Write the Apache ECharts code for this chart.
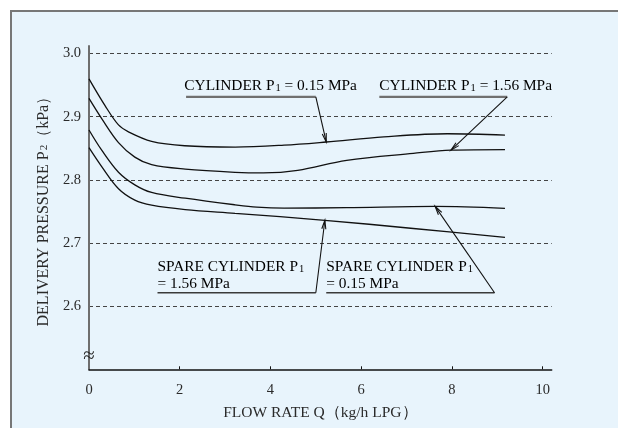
<!DOCTYPE html>
<html>
<head>
<meta charset="utf-8">
<script src="https://cdn.jsdelivr.net/npm/echarts@6/dist/echarts.min.js"></script>
<style>
  html { overflow: hidden; background: #e8f4fc; }
  body { margin: 0; padding: 0; background: #e8f4fc; }
  #chart { position: fixed; left: 0; top: 0; width: 100vw; height: 100vh; }
</style>
</head>
<body>
<div id="chart"></div>
<script>
// ---- data ----
const flowCyl015  = [0, 0.35, 0.65, 0.87, 1.38, 2.11, 3.22, 4.3, 5.23, 6.5, 7.9, 9.17];
const pressCyl015 = [2.960, 2.918, 2.887, 2.876, 2.861, 2.854, 2.852, 2.855, 2.860, 2.868, 2.873, 2.871];

const flowCyl156  = [0, 0.28, 0.65, 1.01, 1.38, 2.12, 3.22, 3.84, 4.6, 5.68, 7.15, 7.98, 9.17];
const pressCyl156 = [2.929, 2.897, 2.859, 2.836, 2.824, 2.817, 2.812, 2.811, 2.815, 2.831, 2.842, 2.847, 2.848];

const flowSpare015  = [0, 0.28, 0.65, 1.01, 1.38, 2.12, 3.22, 3.7, 4.3, 5.68, 7.63, 9.17];
const pressSpare015 = [2.879, 2.847, 2.812, 2.792, 2.780, 2.771, 2.7605, 2.7568, 2.7552, 2.756, 2.758, 2.755];

const flowSpare156  = [0, 0.28, 0.65, 1.01, 1.38, 2.12, 3.22, 5.2, 7.15, 9.17];
const pressSpare156 = [2.851, 2.821, 2.786, 2.768, 2.760, 2.753, 2.747, 2.736, 2.723, 2.709];

const xTickLabels = [0, 2, 4, 6, 8, 10];
const yTickLabels = [2.6, 2.7, 2.8, 2.9, 3.0];

// annotation texts (rich-text markup for the subscript)
const annTexts = [
  '{n|CYLINDER P}{s|1}{n| = 0.15 MPa}',
  '{n|CYLINDER P}{s|1}{n| = 1.56 MPa}',
  '{n|SPARE CYLINDER P}{s|1}\n{n|= 1.56 MPa}',
  '{n|SPARE CYLINDER P}{s|1}\n{n|= 0.15 MPa}'
];
// annotation anchors in data units: text left/bottom, underline x0..x1 at yLine, arrow tip
const annTextX  = [2.10, 6.40, 1.51, 5.23];
const annTextY  = [2.9345, 2.9345, 2.6215, 2.6215];
const annLineX0 = [2.14, 6.40, 1.51, 5.23];
const annLineX1 = [5.00, 9.22, 5.00, 8.94];
const annLineY  = [2.9313, 2.9313, 2.6212, 2.6212];
const annTipX   = [5.23, 7.98, 5.20, 7.63];
const annTipY   = [2.860, 2.847, 2.736, 2.758];

const FONT = '"Liberation Serif", "DejaVu Serif", serif';
const TXT = '#2a2a2a';

function zip(a, b) { return a.map((v, i) => [v, b[i]]); }

const lineStyle = { color: '#111', width: 1.3 };
function curve(name, xs, ys) {
  return { name, type: 'line', data: zip(xs, ys), smooth: 0.35, showSymbol: false,
           lineStyle, z: 5, silent: true };
}

const rich = {
  n: { fontFamily: FONT, fontSize: 15.4, color: TXT, lineHeight: 17 },
  s: { fontFamily: FONT, fontSize: 10.5, color: TXT, lineHeight: 17, padding: [4, 0, 0, 1] }
};

function renderAnn(params, api) {
  const i = params.dataIndex;
  const p0 = api.coord([annLineX0[i], annLineY[i]]);
  const p1 = api.coord([annLineX1[i], annLineY[i]]);
  const tip = api.coord([annTipX[i], annTipY[i]]);
  const t = api.coord([annTextX[i], annTextY[i]]);
  const dx = tip[0] - p1[0], dy = tip[1] - p1[1];
  const L = Math.hypot(dx, dy), ux = dx / L, uy = dy / L;
  const hl = 9, ang = 13 * Math.PI / 180;
  function rot(a) {
    const c = Math.cos(a), s = Math.sin(a);
    return [tip[0] - hl * (ux * c - uy * s), tip[1] - hl * (ux * s + uy * c)];
  }
  const top = i < 2;
  return {
    type: 'group',
    children: [
      { type: 'line', shape: { x1: p0[0], y1: p0[1], x2: p1[0], y2: p1[1] },
        style: { stroke: top ? '#707070' : '#3a3a3a', lineWidth: top ? 2.2 : 1.5 } },
      { type: 'line', shape: { x1: p1[0], y1: p1[1], x2: tip[0], y2: tip[1] },
        style: { stroke: '#111', lineWidth: 1.1 } },
      { type: 'polyline', shape: { points: [rot(ang), tip, rot(-ang)] },
        style: { stroke: '#111', lineWidth: 1.1, fill: null } },
      { type: 'text', x: t[0], y: t[1],
        style: { text: annTexts[i], rich, align: 'left', verticalAlign: 'bottom' } }
    ]
  };
}

function renderBreak(params, api) {
  const p = api.coord([0, 2.52]);
  return { type: 'text', x: p[0], y: p[1],
    style: { text: '≈', font: '21px ' + FONT, fill: '#222', align: 'center', verticalAlign: 'middle' } };
}

const chart = echarts.init(document.getElementById('chart'), null, { renderer: 'canvas' });
chart.setOption({
  backgroundColor: '#ffffff',
  animation: false,
  graphic: [
    { type: 'rect', z: -100, silent: true, shape: { x: 10, y: 10, width: 700, height: 500 },
      style: { fill: '#e8f4fc' } },
    { type: 'line', z: -99, silent: true, shape: { x1: 10, y1: 11, x2: 700, y2: 11 },
      style: { stroke: '#777', lineWidth: 2 } },
    { type: 'line', z: -99, silent: true, shape: { x1: 11, y1: 10, x2: 11, y2: 500 },
      style: { stroke: '#777', lineWidth: 2 } }
  ],
  grid: { left: 89, right: 66.3, top: 46, bottom: 58.7, containLabel: false },
  xAxis: {
    type: 'value', min: 0, max: 10.2, interval: 2,
    name: 'FLOW RATE Q（kg/h LPG）', nameLocation: 'middle', nameGap: 36,
    nameTextStyle: { fontFamily: FONT, fontSize: 15.5, color: TXT },
    axisLine: { show: true, lineStyle: { color: '#111', width: 1.5 } },
    axisTick: { show: true, inside: true, length: 3, lineStyle: { color: '#111', width: 1 },
                customValues: [2, 4, 6, 8, 10] },
    axisLabel: { customValues: xTickLabels, fontFamily: FONT, fontSize: 14.5, color: TXT, margin: 13 },
    splitLine: { show: false }
  },
  yAxis: {
    type: 'value', min: 2.5, max: 3.012, interval: 0.1,
    name: '{n|DELIVERY PRESSURE P}{s|2}{n|（kPa）}', nameLocation: 'middle', nameGap: 34.5,
    nameTextStyle: { rich: {
      n: { fontFamily: FONT, fontSize: 16, color: TXT },
      s: { fontFamily: FONT, fontSize: 11, color: TXT, padding: [0, 0, 0, 1] } } },
    axisLine: { show: true, lineStyle: { color: '#6e6e6e', width: 2 } },
    axisTick: { show: false },
    axisLabel: { customValues: yTickLabels, formatter: v => v.toFixed(1),
                 fontFamily: FONT, fontSize: 14.5, color: TXT, margin: 8 },
    splitLine: { show: true, showMinLine: false, showMaxLine: false,
                 lineStyle: { color: '#444', width: 1, type: [4, 3] } }
  },
  series: [
    curve('CYLINDER P1 = 0.15 MPa', flowCyl015, pressCyl015),
    curve('CYLINDER P1 = 1.56 MPa', flowCyl156, pressCyl156),
    curve('SPARE CYLINDER P1 = 0.15 MPa', flowSpare015, pressSpare015),
    curve('SPARE CYLINDER P1 = 1.56 MPa', flowSpare156, pressSpare156),
    { type: 'custom', renderItem: renderAnn, data: [0, 1, 2, 3], z: 6, silent: true, clip: false },
    { type: 'custom', renderItem: renderBreak, data: [0], z: 7, silent: true, clip: false }
  ]
});
</script>
</body>
</html>
